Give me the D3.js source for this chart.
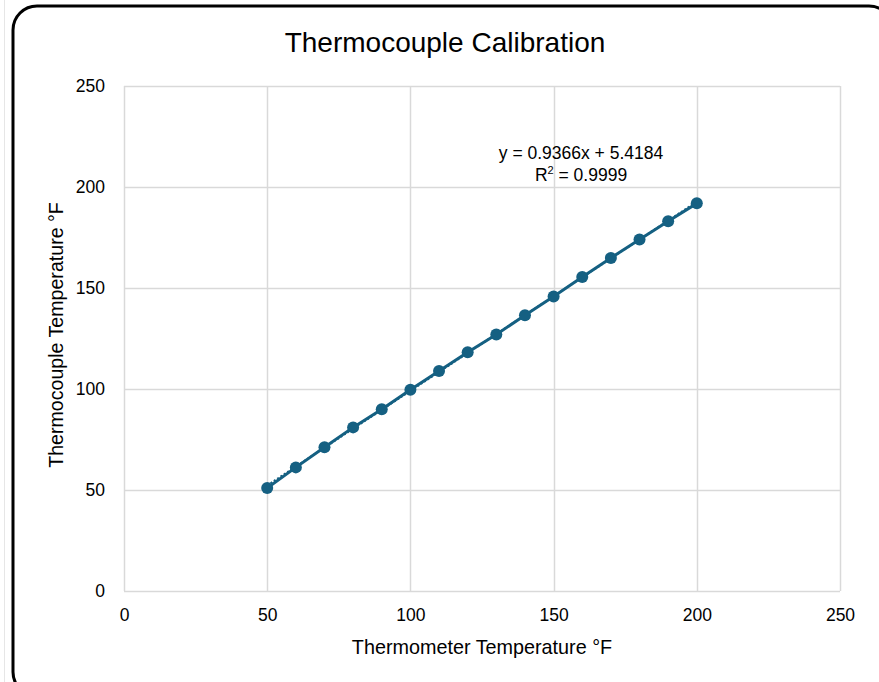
<!DOCTYPE html>
<html>
<head>
<meta charset="utf-8">
<script src="https://cdn.jsdelivr.net/npm/d3@7"></script>
<style>
  html, body { margin: 0; padding: 0; background: #fff; }
  svg { display: block; }
  text { font-family: "Liberation Sans", Arial, sans-serif; fill: #000; }
</style>
</head>
<body>
<svg id="chart" width="879" height="682"></svg>
<script>
const thermometer = [50, 60, 70, 80, 90, 100, 110, 120, 130, 140, 150, 160, 170, 180, 190, 200];
const thermocouple = [51, 61.2, 71.2, 81, 90, 99.6, 108.9, 118.2, 127, 136.5, 145.8, 155.4, 164.9, 174, 183.1, 191.9];
const xTicks = [0, 50, 100, 150, 200, 250];
const yTicks = [0, 50, 100, 150, 200, 250];
const slope = 0.9366, intercept = 5.4184;
const titleText = "Thermocouple Calibration";
const xTitle = "Thermometer Temperature °F";
const yTitle = "Thermocouple Temperature °F";

const svg = d3.select("#chart");
const color = "#156082";

svg.append("line").attr("x1", 4.5).attr("x2", 4.5).attr("y1", 0).attr("y2", 682)
  .attr("stroke", "#e6e6e6").attr("stroke-width", 1);

svg.append("rect").attr("x", 13).attr("y", 6).attr("width", 880).attr("height", 690)
  .attr("rx", 24).attr("ry", 24).attr("fill", "#fff").attr("stroke", "#000").attr("stroke-width", 3);

const x = d3.scaleLinear().domain([0, 250]).range([124, 840]);
const y = d3.scaleLinear().domain([0, 250]).range([591, 86]);

const g = svg.append("g");
g.selectAll(".vg").data(xTicks).join("line")
  .attr("x1", d => Math.round(x(d)) + 0.5).attr("x2", d => Math.round(x(d)) + 0.5)
  .attr("y1", y(0)).attr("y2", y(250))
  .attr("stroke", "#d9d9d9").attr("stroke-width", 1.5);
g.selectAll(".hg").data(yTicks).join("line")
  .attr("y1", d => Math.round(y(d)) + 0.5).attr("y2", d => Math.round(y(d)) + 0.5)
  .attr("x1", x(0)).attr("x2", x(250))
  .attr("stroke", "#d9d9d9").attr("stroke-width", 1.5);

const xAxis = svg.append("g").attr("transform", `translate(0,${y(0)})`)
  .call(d3.axisBottom(x).tickValues(xTicks).tickSize(0).tickPadding(18));
xAxis.select(".domain").remove();
xAxis.selectAll("text").attr("font-size", 17.5).attr("fill", "#222")
  .style("font-family", '"Liberation Sans", Arial, sans-serif');

const yAxis = svg.append("g").attr("transform", `translate(${x(0)},0)`)
  .call(d3.axisLeft(y).tickValues(yTicks).tickSize(0).tickPadding(19));
yAxis.select(".domain").remove();
yAxis.selectAll("text").attr("font-size", 17.5).attr("fill", "#222")
  .style("font-family", '"Liberation Sans", Arial, sans-serif');

svg.append("text").attr("x", 445).attr("y", 52).attr("text-anchor", "middle")
  .attr("font-size", 28).attr("fill", "#000").text(titleText);

svg.append("text").attr("x", 482).attr("y", 654).attr("text-anchor", "middle")
  .attr("font-size", 19.8).text(xTitle);
svg.append("text").attr("transform", "translate(63,335) rotate(-90)").attr("text-anchor", "middle")
  .attr("font-size", 19.6).text(yTitle);

const pts = thermometer.map((t, i) => [t, thermocouple[i]]);

svg.append("path").datum(pts)
  .attr("d", d3.line().x(d => x(d[0])).y(d => y(d[1])))
  .attr("fill", "none").attr("stroke", color).attr("stroke-width", 3);

const xMin = d3.min(thermometer), xMax = d3.max(thermometer);
svg.append("path").datum([xMin, xMax])
  .attr("d", d3.line().x(d => x(d)).y(d => y(slope * d + intercept)))
  .attr("fill", "none").attr("stroke", color).attr("stroke-width", 2)
  .attr("stroke-dasharray", "2,2");

svg.selectAll(".pt").data(pts).join("circle")
  .attr("cx", d => x(d[0])).attr("cy", d => y(d[1])).attr("r", 6)
  .attr("fill", color);

const eq = svg.append("g");
eq.append("text").attr("x", 581).attr("y", 159).attr("text-anchor", "middle")
  .attr("font-size", 17.5).text(`y = ${slope}x + ${intercept}`);
const r2 = eq.append("text").attr("x", 581).attr("y", 181).attr("text-anchor", "middle")
  .attr("font-size", 17.5);
r2.append("tspan").text("R");
r2.append("tspan").attr("font-size", 11).attr("dy", -7).text("2");
r2.append("tspan").attr("dy", 7).text(" = 0.9999");
</script>
</body>
</html>
